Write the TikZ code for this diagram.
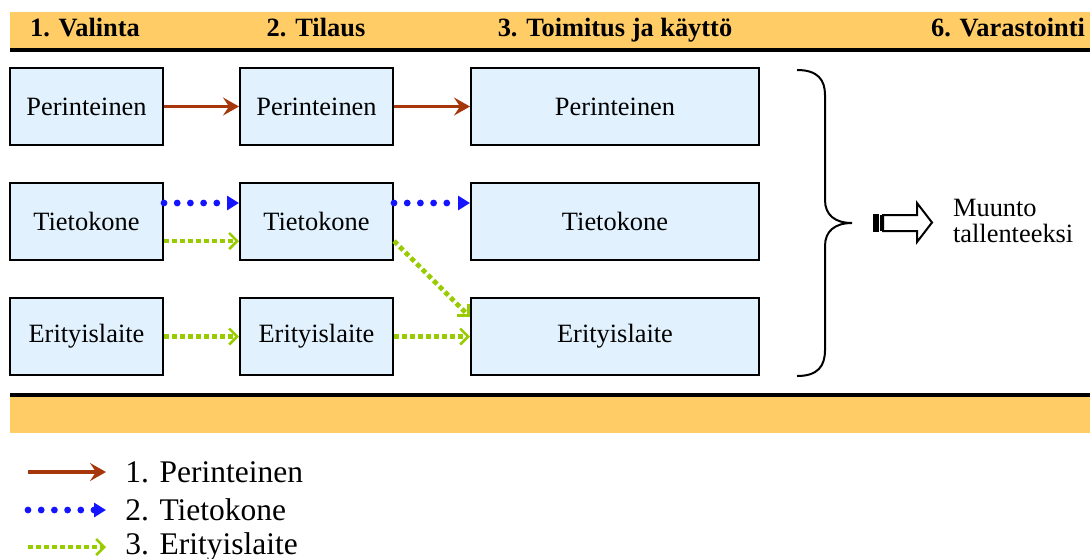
\documentclass[tikz,border=0pt]{standalone}
\usepackage{fontspec}
\setmainfont{LiberationSerif}[
  Extension=.ttf,
  UprightFont=*-Regular,
  BoldFont=*-Bold,
  ItalicFont=*-Italic,
  BoldItalicFont=*-BoldItalic]
\usetikzlibrary{arrows.meta}

\definecolor{band}{RGB}{255,204,102}
\definecolor{boxfill}{RGB}{225,242,254}
\definecolor{perline}{RGB}{165,55,10}
\definecolor{tieline}{RGB}{20,20,255}
\definecolor{eriline}{RGB}{153,204,0}

\tikzset{
  lane/.style={draw, line width=1pt, fill=boxfill, minimum height=38.5pt,
    inner sep=0pt, font=\fontsize{13.2}{15}\selectfont},
  narrow/.style={lane, minimum width=76.5pt},
  wide/.style={lane, minimum width=144pt},
  phase/.style={anchor=base, font=\bfseries\fontsize{13.2}{15}\selectfont},
  per/.style={draw=perline, line width=1.6pt,
    -{Stealth[length=8pt,width=9pt,inset=3pt]}},
  tie/.style={draw=tieline, line width=3.4pt, line cap=round,
    dash pattern=on 0pt off 6.6pt, -{Triangle[length=6pt,width=7pt]}},
  eri/.style={draw=eriline, line width=2.4pt, dash pattern=on 2.4pt off 1.6pt,
    -{Straight Barb[length=4pt,width=8pt,line width=1.3pt]}},
}

\begin{document}
\begin{tikzpicture}[x=0.5pt, y=-0.5pt]
\useasboundingbox (0,0) rectangle (1090,558);

\fill[band] (10,12) rectangle (1090,48);
\draw[line width=2pt] (10,50) -- (1090,50);
\draw[line width=2pt] (10,395) -- (1090,395);
\fill[band] (10,397) rectangle (1090,433);

\node[phase] (valinta)   at (85,36)   {1. Valinta};
\node[phase] (tilaus)    at (316,36)  {2. Tilaus};
\node[phase] (toimitus)  at (615,36)  {3. Toimitus ja käyttö};
\node[phase] (varasto)   at (1008,36) {6. Varastointi};

%%%%%%%%%%%%%%%%%%%%%%%%%%%%%%%%%%%%%%%%

\node[narrow] (valPer) at (86.5,106.5) {Perinteinen};
\node[narrow] (valTie) at (86.5,221.5) {Tietokone};
\node[narrow] (valEri) at (86.5,336.5) {Erityislaite};

\node[narrow] (tilPer) at (316.5,106.5) {Perinteinen};
\node[narrow] (tilTie) at (316.5,221.5) {Tietokone};
\node[narrow] (tilEri) at (316.5,336.5) {Erityislaite};

\node[wide] (toiPer) at (615,106.5) {Perinteinen};
\node[wide] (toiTie) at (615,221.5) {Tietokone};
\node[wide] (toiEri) at (615,336.5) {Erityislaite};

\draw[per] (valPer) -- (tilPer);
\draw[per] (tilPer) -- (toiPer);
\draw[tie] ([yshift=9.25pt]valTie.east) -- ([yshift=9.25pt]tilTie.west);
\draw[tie] ([yshift=9.25pt]tilTie.east) -- ([yshift=9.25pt]toiTie.west);
\draw[eri] ([yshift=-9.75pt]valTie.east) -- ([yshift=-9.75pt]tilTie.west);
\draw[eri] ([yshift=-9.75pt]tilTie.east) -- ([yshift=9.75pt]toiEri.west);
\draw[eri] (valEri) -- (tilEri);
\draw[eri] (tilEri) -- (toiEri);

%%%%%%%%%%%%%%%%%%%%%%%%%%%%%%%%%%%%%%%%

\draw[line width=1pt]
     (797,70)
  .. controls (818,70) and (825,80) .. (825,95)
  -- (825,200)
  .. controls (825,215) and (835,223) .. (852,223) coordinate (tip)
  .. controls (835,223) and (825,231) .. (825,246)
  -- (825,350)
  .. controls (825,366) and (818,376) .. (797,376);

\fill (873,214) rectangle (879,232);
\draw[line width=0.8pt] (881,215) -- (881,231);
\draw[line width=1pt, fill=white]
     (883,215) -- (917,215) -- (917,203) -- (932,222.5)
  -- (917,242) -- (917,231) -- (883,231) -- cycle;

\node[anchor=west, align=left, font=\fontsize{13.2}{13.3}\selectfont]
  (muunto) at (946,221) {Muunto\\tallenteeksi};

%%%%%%%%%%%%%%%%%%%%%%%%%%%%%%%%%%%%%%%%

\path (28,472) coordinate (perA) (106,472) coordinate (perB);
\path (28,510) coordinate (tieA) (106,510) coordinate (tieB);
\path (28,547) coordinate (eriA) (106,547) coordinate (eriB);
\draw[per] (perA) -- (perB);
\draw[tie] (tieA) -- (tieB);
\draw[eri] (eriA) -- (eriB);
\node[anchor=west, inner sep=0pt, font=\fontsize{15.75}{18}\selectfont]
  (legPer) at (125,472) {1. Perinteinen};
\node[anchor=west, inner sep=0pt, font=\fontsize{15.75}{18}\selectfont]
  (legTie) at (125,510) {2. Tietokone};
\node[anchor=west, inner sep=0pt, font=\fontsize{15.75}{18}\selectfont]
  (legEri) at (125,547) {3. Erityislaite};
\end{tikzpicture}
\end{document}
